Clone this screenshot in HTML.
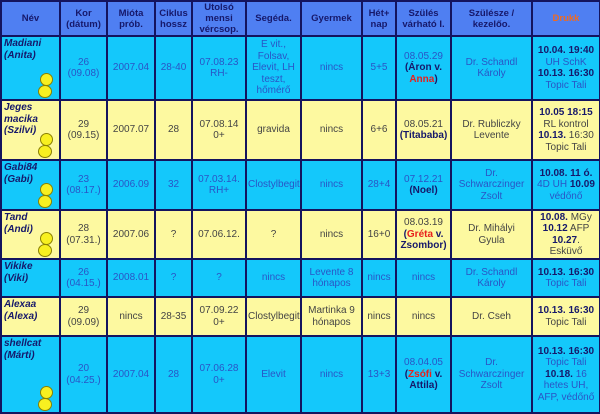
<!DOCTYPE html>
<html><head><meta charset="utf-8"><style>
body{margin:0;width:600px;height:411px;background:#fff;overflow:hidden}
table{border-collapse:collapse;table-layout:fixed;width:599px;font-family:"Liberation Sans",sans-serif;font-size:10px;position:absolute;left:0;top:0}
td{border:2px solid #14145e;text-align:center;vertical-align:middle;padding:0 1px;line-height:11.5px;overflow:hidden}
tr.h td{background:#4f7ff2;color:#16186a;font-weight:bold;font-size:9.5px;line-height:11px}
tr.c td{background:#14c8fb;color:#2a55c6}
tr.y td{background:#fdf9a0;color:#444}
td.n{text-align:left;vertical-align:top;font-weight:bold;font-style:italic;color:#16186a!important;position:relative;padding-left:2px;padding-top:1px}
b{color:#16186a}
.r{color:#e8201c}
.dr{color:#f06a20!important}
.m{position:absolute;right:4px;bottom:2px;width:18px;height:24px}
.m i{position:absolute;background:#f8f020;border:1px solid #8a8000;border-radius:50%}
</style></head><body>
<table>
<colgroup><col style="width:59px"><col style="width:47px"><col style="width:48px"><col style="width:37px"><col style="width:54px"><col style="width:55px"><col style="width:61px"><col style="width:34px"><col style="width:55px"><col style="width:81px"><col style="width:68px"></colgroup>
<tr class="h" style="height:33px"><td>Név</td><td>Kor (dátum)</td><td>Mióta prób.</td><td>Ciklus hossz</td><td>Utolsó mensi vércsop.</td><td>Segéda.</td><td>Gyermek</td><td>Hét+ nap</td><td>Szülés várható I.</td><td>Szülésze / kezelőo.</td><td class="dr">Drukk</td></tr>
<tr class="c" style="height:64px"><td class="n">Madiani (Anita)<div class="m"><i style="left:3px;top:0;width:11px;height:11px"></i><i style="left:1px;top:12px;width:12px;height:11px"></i></div></td><td>26<br>(09.08)</td><td>2007.04</td><td>28-40</td><td>07.08.23 RH-</td><td>E vit., Folsav, Elevit, LH teszt, hőmérő</td><td>nincs</td><td>5+5</td><td>08.05.29 <b>(Áron v. <span class="r">Anna</span>)</b></td><td>Dr. Schandl Károly</td><td><b>10.04. 19:40</b> UH SchK <b>10.13. 16:30</b> Topic Tali</td></tr>
<tr class="y" style="height:60px"><td class="n">Jeges macika (Szilvi)<div class="m"><i style="left:3px;top:0;width:11px;height:11px"></i><i style="left:1px;top:12px;width:12px;height:11px"></i></div></td><td>29<br>(09.15)</td><td>2007.07</td><td>28</td><td>07.08.14 0+</td><td>gravida</td><td>nincs</td><td>6+6</td><td>08.05.21 <b>(Titababa)</b></td><td>Dr. Rubliczky Levente</td><td><b>10.05 18:15</b> RL kontrol <b>10.13.</b> 16:30 Topic Tali</td></tr>
<tr class="c" style="height:50px"><td class="n">Gabi84 (Gabi)<div class="m"><i style="left:3px;top:0;width:11px;height:11px"></i><i style="left:1px;top:12px;width:12px;height:11px"></i></div></td><td>23<br>(08.17.)</td><td>2006.09</td><td>32</td><td>07.03.14. RH+</td><td>Clostylbegit</td><td>nincs</td><td>28+4</td><td>07.12.21 <b>(Noel)</b></td><td>Dr. Schwarczinger Zsolt</td><td><b>10.08. 11 ó.</b> 4D UH <b>10.09</b> védőnő</td></tr>
<tr class="y" style="height:49px"><td class="n">Tand (Andi)<div class="m"><i style="left:3px;top:0;width:11px;height:11px"></i><i style="left:1px;top:12px;width:12px;height:11px"></i></div></td><td>28<br>(07.31.)</td><td>2007.06</td><td>?</td><td>07.06.12.</td><td>?</td><td>nincs</td><td>16+0</td><td>08.03.19 <b>(<span class="r">Gréta</span> v. Zsombor)</b></td><td>Dr. Mihályi<br>Gyula</td><td><b>10.08.</b> MGy <b>10.12</b> AFP <b>10.27</b>.<br>Esküvő</td></tr>
<tr class="c" style="height:38px"><td class="n">Vikike (Viki)</td><td>26<br>(04.15.)</td><td>2008.01</td><td>?</td><td>?</td><td>nincs</td><td>Levente 8 hónapos</td><td>nincs</td><td>nincs</td><td>Dr. Schandl Károly</td><td><b>10.13. 16:30</b> Topic Tali</td></tr>
<tr class="y" style="height:39px"><td class="n">Alexaa (Alexa)</td><td>29<br>(09.09)</td><td>nincs</td><td>28-35</td><td>07.09.22 0+</td><td>Clostylbegit</td><td>Martinka 9 hónapos</td><td>nincs</td><td>nincs</td><td>Dr. Cseh</td><td><b>10.13. 16:30</b> Topic Tali</td></tr>
<tr class="c" style="height:77px"><td class="n">shellcat (Márti)<div class="m"><i style="left:3px;top:0;width:11px;height:11px"></i><i style="left:1px;top:12px;width:12px;height:11px"></i></div></td><td>20<br>(04.25.)</td><td>2007.04</td><td>28</td><td>07.06.28 0+</td><td>Elevit</td><td>nincs</td><td>13+3</td><td>08.04.05 <b>(<span class="r">Zsófi</span> v. Attila)</b></td><td>Dr. Schwarczinger Zsolt</td><td><b>10.13. 16:30</b> Topic Tali <b>10.18.</b> 16 hetes UH, AFP, védőnő</td></tr>
</table>
</body></html>
